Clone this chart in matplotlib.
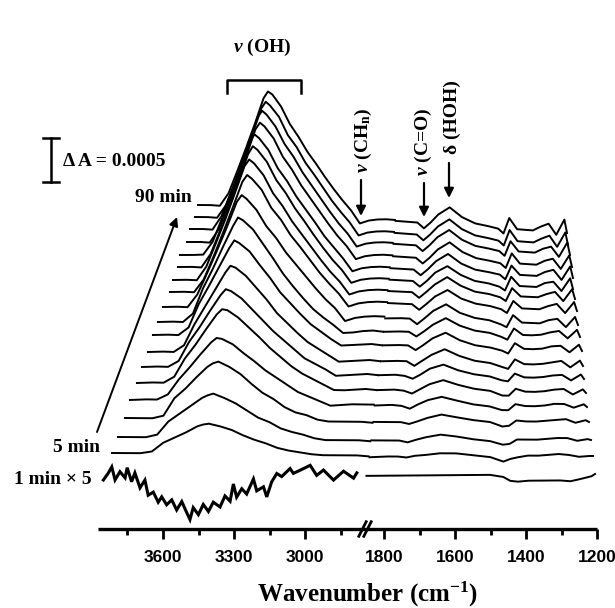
import numpy as np
import matplotlib
matplotlib.use("Agg")
import matplotlib.pyplot as plt
from matplotlib.transforms import Affine2D, blended_transform_factory

# ---------------- data ----------------
wn_high = [3875, 3800, 3750, 3700, 3650, 3600, 3550, 3500, 3475, 3450, 3400, 3350,
           3300, 3250, 3200, 3150, 3100, 3050, 3000, 2950, 2900, 2850, 2800, 2750]
wn_low = [1853, 1800, 1770, 1745, 1720, 1690, 1647, 1600, 1550, 1500, 1462, 1442,
          1420, 1390, 1360, 1330, 1300, 1270, 1241, 1210, 1200]

times_min = [5, 10, 15, 20, 25, 30, 35, 40, 45, 50, 55, 60, 65, 70, 75, 80, 85, 90]

# difference absorbance, units of 1e-5
dA_high = [
    [0, 0, 0, 2, 12, 18, 24, 31, 33, 34, 31, 27, 21, 16, 12, 7, 4, 2, 0, -1, -1, -1, -1, -2],
    [0, 0, 0, 3, 18, 27, 36, 45, 48, 50, 45, 39, 31, 23, 18, 11, 7, 4, 0, -2, -2, -2, -2, -3],
    [0, 0, 0, 3, 23, 34, 47, 59, 63, 65, 59, 51, 40, 30, 23, 14, 8, 5, 0, -2, -2, -2, -2, -3],
    [0, 1, 1, 7, 24, 38, 53, 67, 72, 71, 65, 55, 46, 36, 28, 20, 12, 7, 2, -3, -2, -1, -1, -1],
    [0, 1, 1, 8, 29, 45, 63, 80, 86, 85, 77, 66, 55, 43, 33, 23, 15, 9, 3, -3, -3, -2, -1, -2],
    [0, 1, 1, 8, 30, 47, 66, 84, 91, 89, 81, 69, 57, 45, 35, 25, 15, 9, 3, -4, -3, -2, -1, -2],
    [0, 1, 1, 9, 33, 53, 73, 93, 101, 99, 90, 77, 64, 49, 38, 27, 17, 10, 3, -4, -3, -2, -1, -2],
    [0, 1, 1, 10, 37, 58, 80, 102, 111, 108, 99, 84, 70, 54, 42, 30, 19, 11, 3, -4, -3, -2, -1, -2],
    [0, 1, 1, 11, 40, 63, 88, 112, 122, 119, 109, 93, 77, 60, 46, 33, 21, 12, 4, -5, -4, -2, -1, -2],
    [0, 1, 1, 16, 41, 67, 94, 123, 131, 127, 115, 97, 84, 68, 55, 42, 29, 17, 7, -7, -3, -1, 0, 0],
    [0, 1, 1, 16, 42, 70, 99, 129, 137, 133, 121, 101, 88, 71, 58, 44, 30, 18, 7, -7, -3, -1, 0, 0],
    [0, 1, 1, 17, 44, 72, 102, 133, 141, 137, 124, 104, 90, 73, 59, 45, 31, 18, 7, -7, -3, -1, 0, 0],
    [0, 1, 1, 17, 44, 72, 102, 133, 142, 138, 125, 105, 91, 74, 60, 45, 31, 18, 7, -7, -3, -1, 0, 0],
    [0, 1, 2, 17, 44, 73, 102, 134, 142, 138, 125, 105, 91, 74, 60, 46, 31, 19, 7, -7, -3, -1, 0, 0],
    [0, 1, 1, 17, 44, 72, 102, 133, 141, 137, 124, 104, 90, 73, 59, 45, 31, 18, 7, -7, -3, -1, 0, 0],
    [0, 1, 1, 17, 43, 71, 101, 132, 140, 136, 123, 104, 90, 73, 59, 45, 31, 18, 7, -7, -3, -1, 0, 0],
    [0, 1, 1, 16, 42, 70, 99, 129, 137, 133, 121, 101, 88, 71, 58, 44, 30, 18, 7, -7, -3, -1, 0, 0],
    [0, 1, 1, 16, 42, 69, 97, 127, 135, 132, 119, 100, 86, 70, 57, 43, 30, 18, 7, -7, -3, -1, 0, 0],
]
dA_low = [
    [-3, -2, -2, -3, -1, 0, 2, 2, 0, -2, -7, -4, -2, 0, 0, 1, 2, 1, -1, 0, 0],
    [-2, -2, -2, -4, -1, 2, 5, 3, 0, -2, -6, -5, 0, 0, 0, 1, 2, 2, -1, 1, 0],
    [-2, -2, -2, -4, -1, 3, 7, 4, 1, -1, -6, -5, 1, 0, 0, 1, 2, 3, -1, 2, 0],
    [-2, -1, -2, -5, 0, 5, 9, 5, 1, -1, -5, -5, 2, 0, 0, 1, 3, 3, -1, 3, 0],
    [-2, -1, -2, -5, 0, 6, 11, 6, 2, 0, -5, -5, 3, 0, 0, 1, 3, 4, -2, 4, 0],
    [-2, -1, -2, -5, 0, 7, 12, 6, 2, 0, -4, -5, 4, 0, 0, 1, 3, 4, -2, 5, 0],
    [-2, -1, -1, -6, 0, 7, 14, 7, 2, 0, -4, -6, 5, 0, 0, 1, 3, 5, -2, 6, 0],
    [-2, -1, -1, -6, 0, 8, 15, 7, 2, 0, -3, -6, 6, 0, 0, 1, 4, 5, -2, 7, 0],
    [-2, -1, -1, -6, 0, 8, 16, 8, 3, 1, -3, -6, 7, 0, 0, 1, 4, 6, -2, 8, 0],
    [-2, -1, -1, -7, 0, 9, 17, 8, 3, 1, -3, -6, 8, 0, 0, 0, 4, 6, -3, 9, 0],
    [-1, -1, -1, -7, 0, 9, 17, 8, 3, 1, -2, -6, 8, 0, 0, 0, 4, 7, -3, 10, 0],
    [-1, -1, -1, -7, 0, 9, 18, 9, 3, 1, -2, -6, 9, 0, 0, 0, 4, 7, -3, 11, 0],
    [-1, -1, -1, -7, 0, 10, 18, 9, 3, 1, -2, -6, 10, 0, 0, 0, 5, 7, -3, 12, 0],
    [-1, -1, -1, -7, 0, 10, 19, 9, 3, 1, -1, -6, 10, 0, 0, 0, 5, 8, -3, 13, 0],
    [-1, -1, -1, -7, 0, 10, 19, 9, 3, 1, -1, -6, 11, 0, 0, 0, 5, 8, -3, 13, 0],
    [-1, -1, -1, -7, 0, 10, 19, 9, 3, 1, -1, -6, 11, 0, 0, 0, 5, 8, -3, 14, 0],
    [-1, -1, -1, -7, 0, 10, 19, 9, 3, 1, -1, -6, 12, 0, 0, 0, 5, 9, -3, 14, 0],
    [-1, -1, -1, -7, 0, 10, 19, 9, 3, 1, -1, -6, 12, 0, 0, 0, 5, 9, -3, 15, 0],
]

# 1 min spectrum (read on a denser grid, plotted x5)
wn_one_high = [3873, 3852, 3837, 3823, 3802, 3780, 3771, 3752, 3738, 3716, 3695, 3681,
               3659, 3638, 3623, 3602, 3580, 3559, 3537, 3516, 3502, 3488, 3466, 3445,
               3423, 3402, 3373, 3352, 3330, 3316, 3302, 3280, 3259, 3230, 3216, 3187,
               3173, 3152, 3130, 3109, 3073, 3059, 3030, 2987, 2959, 2930, 2887, 2844,
               2801, 2787]
one_min_high = [-0.45, 1.1, 2.5, -0.45, 1.4, 0.0, 2.3, -0.9, 1.1, -2.3, -0.55, -4.0,
                -3.3, -5.6, -4.4, -6.2, -5.1, -7.4, -5.5, -8.0, -9.6, -6.9, -8.5, -6.2,
                -7.8, -5.7, -6.8, -4.3, -5.5, -1.6, -4.6, -2.7, -3.9, -0.5, -3.2, -2.3,
                -4.6, -1.2, 0.7, 0.0, 1.8, 0.7, 1.4, 2.5, 0.2, 1.4, -0.9, 1.1,
                -0.5, 0.7]
one_min_low = [0, 0, 0, 0, 0, 0, 0, 0, 0, 0, -0.5, -1.4, -1.6, -1.4, -1.4, -1.4, -1.4,
               -1.6, -1.1, -0.5, 0]
one_min_factor = 5
dA_unit = 1e-5
scale_bar = 0.0005

major_ticks = [3600, 3300, 3000, 1800, 1600, 1400, 1200]
minor_ticks = [3750, 3450, 3150, 2850, 1700, 1500, 1300]

# ---------------- layout (pixels of a 615x608 canvas) ----------------
W, H = 615, 608
PX_PER_A = 88000.0
AX_L, AX_R = 98.0, 597.0
left_x = [112, 118, 125, 130, 137, 142, 148, 153, 158, 163, 170, 173, 178, 180, 187, 190, 195, 198]
left_y = [453, 437, 418, 400, 383, 367, 352, 335, 322, 307, 292, 280, 267, 255, 242, 229, 217, 205]
right_x = [593, 591, 589, 587, 586, 584, 583, 582, 580, 578, 577, 575, 573, 573, 572, 570, 568, 567]
right_y = [456, 440, 422, 407, 393, 379, 366, 351, 337, 325, 311, 299, 289, 278, 267, 255, 245, 233]
one_geom = (103, 478, 595, 474)


def pos(w):
    """front-axis pixel position of a wavenumber (broken axis)"""
    w = np.asarray(w, float)
    left = 163 + (3600 - w) * 0.2367
    right = 384 + (1800 - w) * 0.355
    mid = 364.2 + (2750 - w) / 897.0
    return np.where(w >= 2750, left, np.where(w <= 1853, right, mid))


def wn_of(p):
    p = np.asarray(p, float)
    left = 3600 - (p - 163) / 0.2367
    right = 1800 - (p - 384) / 0.355
    mid = 2750 - (p - 364.2) * 897.0
    return np.where(p <= 364.2, left, np.where(p >= 365.2, right, mid))


def fwd(w):
    return -pos(w)


def inv(q):
    return wn_of(-np.asarray(q, float))


plt.rcParams['mathtext.fontset'] = 'custom'
plt.rcParams['mathtext.rm'] = 'Liberation Serif:bold'
plt.rcParams['mathtext.it'] = 'Liberation Serif:italic:bold'
plt.rcParams['mathtext.bf'] = 'Liberation Serif:bold'

fig = plt.figure(figsize=(W / 100, H / 100), dpi=100)
ax = fig.add_axes([0, 0, 1, 1])
ax.set_xscale('function', functions=(fwd, inv))
ax.set_xlim(float(wn_of(0)), float(wn_of(W)))
ax.set_ylim(0, H / PX_PER_A)
ax.patch.set_visible(False)
for s in ['top', 'left', 'right']:
    ax.spines[s].set_visible(False)
ax.spines['bottom'].set_position(('axes', 1 - 529 / H))
ax.spines['bottom'].set_bounds(float(wn_of(AX_L)), 1200)
ax.spines['bottom'].set_linewidth(2.4)
ax.spines['bottom'].set_capstyle('butt')
ax.yaxis.set_visible(False)
ax.set_xticks(major_ticks)
ax.set_xticklabels([str(t) for t in major_ticks])
ax.set_xticks(minor_ticks, minor=True)
ax.tick_params(axis='x', which='major', direction='out', length=7.5, width=2.0, pad=7.5,
               labelsize=12.5)
ax.tick_params(axis='x', which='minor', direction='out', length=4, width=2.0)
for lab in ax.get_xticklabels():
    lab.set_fontfamily('Liberation Sans')
    lab.set_fontweight('bold')


def persp(Lx, Ly, Rx, Ry):
    s = (Rx - Lx) / (AX_R - AX_L)
    t = (Ry - Ly) / (AX_R - AX_L)
    M = np.array([[s, 0, (Lx - AX_L * s) / W],
                  [-W * t / H, 1, 1 - Ly / H + AX_L * t / H],
                  [0, 0, 1]])
    return ax.transScale + ax.transLimits + Affine2D(M) + ax.transAxes


for k in range(len(times_min)):
    tr = persp(left_x[k], left_y[k], right_x[k], right_y[k])
    ax.plot(wn_high, np.array(dA_high[k]) * dA_unit, color='black', lw=1.4,
            transform=tr, clip_on=False, solid_joinstyle='round')
    ax.plot(wn_low, np.array(dA_low[k]) * dA_unit, color='black', lw=1.4,
            transform=tr, clip_on=False, solid_joinstyle='round')

tr1 = persp(*one_geom)
ax.plot(wn_one_high, np.array(one_min_high) * dA_unit * one_min_factor, color='black',
        lw=2.2, transform=tr1, clip_on=False, solid_joinstyle='miter')
ax.plot(wn_low, np.array(one_min_low) * dA_unit * one_min_factor, color='black', lw=1.4,
        transform=tr1, clip_on=False)

# axis break mark
yb = 1 - 529 / H
for xoff in (-2.5, 2.5):
    xc = (365 + xoff) / W
    ax.plot([xc - 0.006, xc + 0.006], [yb - 0.012, yb + 0.012], transform=fig.transFigure,
            color='black', lw=2.0, clip_on=False)

# scale bar
sbt = blended_transform_factory(fig.transFigure, ax.transData)
y0 = (H - 182) / PX_PER_A
xb = 51 / W
ax.plot([xb, xb], [y0, y0 + scale_bar], transform=sbt, color='black', lw=1.8)
for yy in (y0, y0 + scale_bar):
    ax.plot([xb - 8 / W, xb + 8 / W], [yy, yy], transform=sbt, color='black', lw=1.8)


def fx(x):
    return x / W


def fy(y):
    return 1 - y / H


serif = dict(family='Liberation Serif', weight='bold')
fig.text(fx(63), fy(161), 'Δ A = 0.0005', ha='left', va='center', fontsize=14, **serif)
fig.text(fx(163), fy(198), '90 min', ha='center', va='center', fontsize=14, **serif)
fig.text(fx(100), fy(447), '5 min', ha='right', va='center', fontsize=14, **serif)
fig.text(fx(92), fy(479), '1 min × 5', ha='right', va='center', fontsize=14, **serif)
fig.text(fx(368), fy(594), 'Wavenumber (cm$^{-1}$)', ha='center', va='center',
         fontsize=18, **serif)
fig.text(fx(262), fy(47), r'$\nu$ (OH)', ha='center', va='center', fontsize=14, **serif)
fig.text(fx(363), fy(140), r'$\nu$ (CH$_\mathregular{n}$)', ha='center', va='center',
         fontsize=14, rotation=90, **serif)
fig.text(fx(423), fy(142), r'$\nu$ (C=O)', ha='center', va='center', fontsize=14,
         rotation=90, **serif)
fig.text(fx(452), fy(117), 'δ (HOH)', ha='center', va='center', fontsize=14,
         rotation=90, **serif)

# bracket
ax.plot([fx(227), fx(227), fx(301), fx(301)], [fy(93), fy(80), fy(80), fy(93)],
        transform=fig.transFigure, color='black', lw=1.8, clip_on=False)

arrow = dict(arrowstyle='-|>', color='black', lw=1.6, mutation_scale=14, shrinkA=0, shrinkB=0)
for (x, ya, yb2) in [(361, 180, 216), (424, 183, 217), (449, 163, 198)]:
    ax.annotate('', xy=(fx(x), fy(yb2)), xytext=(fx(x), fy(ya)), xycoords='figure fraction',
                textcoords='figure fraction', arrowprops=arrow)
ax.annotate('', xy=(fx(177), fy(217)), xytext=(fx(97), fy(432)), xycoords='figure fraction',
            textcoords='figure fraction',
            arrowprops=dict(arrowstyle='-|>', color='black', lw=1.4, mutation_scale=13,
                            shrinkA=0, shrinkB=0))

fig.savefig('out.png', dpi=100)
